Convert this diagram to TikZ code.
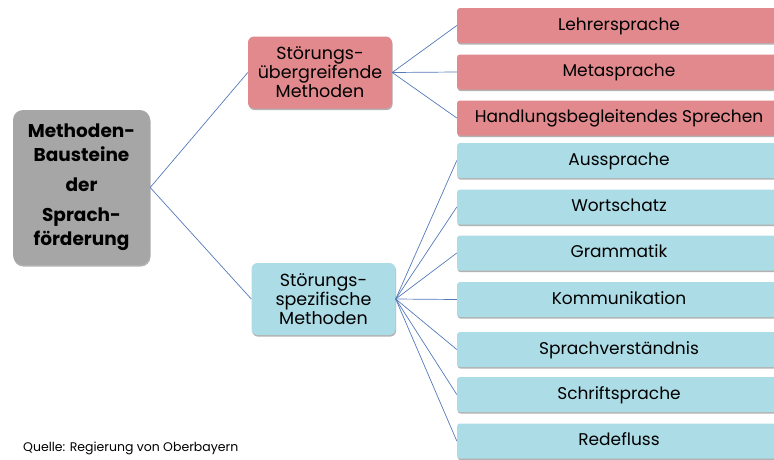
\documentclass[tikz,border=0pt]{standalone}
\usepackage{fontspec}
\setmainfont{Poppins}
\usetikzlibrary{shadows}

\definecolor{boxred}{RGB}{225,137,140}
\definecolor{boxblue}{RGB}{172,220,230}
\definecolor{boxgray}{RGB}{166,166,166}
\definecolor{linkblue}{RGB}{84,122,184}

\tikzset{
  boxshadow/.style = {drop shadow={shadow xshift=0.6pt, shadow yshift=-1.6pt, opacity=0.3, fill=black}},
  rootbox/.style = {fill=boxgray, rounded corners=10pt, minimum width=137pt, minimum height=155pt,
    align=center, inner sep=0pt, font=\fontsize{18.5}{24}\selectfont\bfseries, boxshadow},
  midbox/.style = {rounded corners=6pt, minimum width=144pt, minimum height=72pt,
    align=center, inner sep=0pt, font=\fontsize{17.5}{19}\selectfont, boxshadow},
  leaf/.style = {rounded corners=3pt, minimum width=324pt, minimum height=35pt,
    inner sep=0pt, text height=12pt, text depth=3pt, font=\fontsize{17}{19}\selectfont, boxshadow},
  link/.style = {draw=linkblue, line width=0.7pt}
}

\begin{document}
\begin{tikzpicture}[x=1pt, y=-1pt]
\useasboundingbox (0,0) rectangle (774,459);

% main block
\node[rootbox] (root) at (81.5,187.5) {Methoden-\\Bausteine\\[6pt]der\\[6pt]Sprach-\\förderung};

% two groups
\node[midbox, fill=boxred] (uebergr) at (320,72.5) {Störungs-\\übergreifende\\Methoden};
\node[midbox, fill=boxblue] (spezif) at (323.5,299) {Störungs-\\spezifische\\Methoden};

% leaves, red group
\node[leaf, fill=boxred] (lehrer) at (619,25.5) {Lehrersprache};
\node[leaf, fill=boxred] (meta) at (619,72) {Metasprache};
\node[leaf, fill=boxred] (handl) at (619,118) {Handlungsbegleitendes Sprechen};

% leaves, blue group
\node[leaf, fill=boxblue] (aussp) at (619,160.5) {Aussprache};
\node[leaf, fill=boxblue] (wort) at (619,207) {Wortschatz};
\node[leaf, fill=boxblue] (gramm) at (619,253) {Grammatik};
\node[leaf, fill=boxblue] (komm) at (619,299.5) {Kommunikation};
\node[leaf, fill=boxblue] (verst) at (619,349.5) {Sprachverständnis};
\node[leaf, fill=boxblue] (schrift) at (619,394.5) {Schriftsprache};
\node[leaf, fill=boxblue] (rede) at (619,441) {Redefluss};

% connectors
\draw[link] (root.east) -- (uebergr.west);
\draw[link] (root.east) -- (spezif.west);
\draw[link] (uebergr.east) -- (lehrer.west);
\draw[link] (uebergr.east) -- (meta.west);
\draw[link] (uebergr.east) -- (handl.west);
\draw[link] (spezif.east) -- (aussp.west);
\draw[link] (spezif.east) -- (wort.west);
\draw[link] (spezif.east) -- (gramm.west);
\draw[link] (spezif.east) -- (komm.west);
\draw[link] (spezif.east) -- (verst.west);
\draw[link] (spezif.east) -- (schrift.west);
\draw[link] (spezif.east) -- (rede.west);

\node[anchor=west, inner sep=0pt, font=\fontsize{12.5}{14}\selectfont] (quelle) at (23,448) {Quelle: Regierung von Oberbayern};
\end{tikzpicture}
\end{document}
